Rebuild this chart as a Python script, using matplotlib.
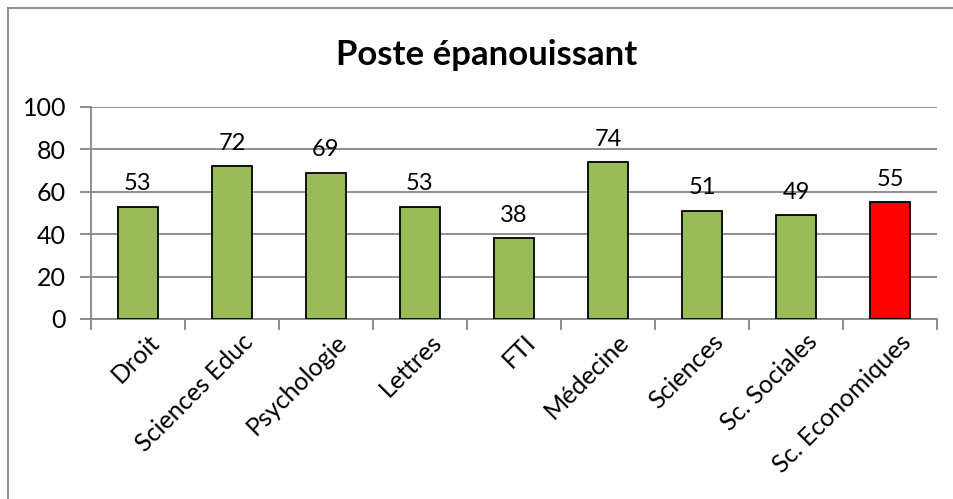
import matplotlib.pyplot as plt
import numpy as np
from matplotlib.lines import Line2D

plt.rcParams['font.family'] = ['Lato', 'DejaVu Sans']

categories = ["Droit", "Sciences Educ", "Psychologie", "Lettres", "FTI",
              "Médecine", "Sciences", "Sc. Sociales", "Sc. Economiques"]
values = [53, 72, 69, 53, 38, 74, 51, 49, 55]
bar_colors = ["#9BBB59"] * 8 + ["#FF0000"]
title = "Poste épanouissant"

fig = plt.figure(figsize=(9.54, 4.99), dpi=100)
ax = fig.add_axes([91 / 954, 1 - 319 / 499, (937 - 91) / 954, (319 - 107) / 499])

x = np.arange(len(categories))
bars = ax.bar(x, values, width=0.42, color=bar_colors, edgecolor="black",
              linewidth=1.3, zorder=3)

for b, v in zip(bars, values):
    ax.annotate(f"{v}", (b.get_x() + b.get_width() / 2, v),
                xytext=(0, 9), textcoords="offset points",
                ha="center", va="bottom", fontsize=17)

ax.set_xlim(-0.5, len(categories) - 0.5)
ax.set_ylim(0, 100)
ax.set_yticks(np.arange(0, 101, 20))
ax.grid(axis="y", color="#868686", linewidth=1.3, zorder=0)

# ticks at category boundaries, labels at centers
ax.set_xticks(np.arange(-0.5, len(categories)), minor=False)
ax.set_xticklabels([])
ax.set_xticks(x + 0.1, minor=True)
ax.set_xticklabels(categories, minor=True, rotation=45, ha="right",
                   rotation_mode="anchor", fontsize=18)
ax.tick_params(axis="x", which="minor", length=0, pad=8)
ax.tick_params(axis="x", which="major", length=8, width=1.3, color="#868686",
               direction="out")
ax.tick_params(axis="y", length=8, width=1.3, color="#868686", labelsize=18,
               pad=10)

for s in ["top", "right"]:
    ax.spines[s].set_visible(False)
for s in ["left", "bottom"]:
    ax.spines[s].set_color("#868686")
    ax.spines[s].set_linewidth(1.3)

fig.text(487 / 954, 1 - 55 / 499, title, ha="center", va="center",
         fontsize=25, fontweight="bold")

# chart border (top and left edges visible)
fig.add_artist(Line2D([8 / 954, 8 / 954], [0, 1 - 8 / 499], transform=fig.transFigure,
                      color="#868686", linewidth=1.3))
fig.add_artist(Line2D([8 / 954, 1], [1 - 8 / 499, 1 - 8 / 499], transform=fig.transFigure,
                      color="#868686", linewidth=1.3))

fig.savefig("out.png", dpi=100)
